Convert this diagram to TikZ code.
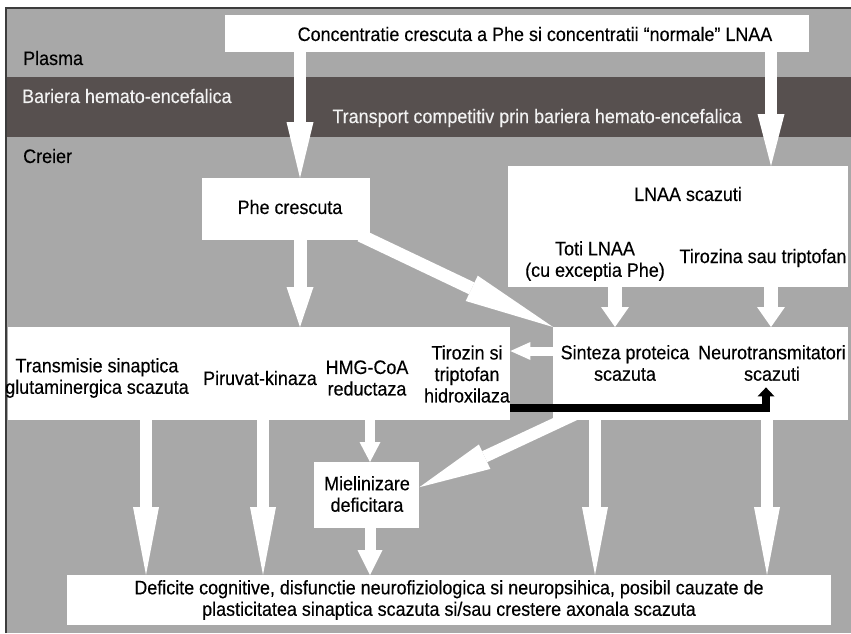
\documentclass[tikz,border=0pt]{standalone}
\usepackage{fontspec}
\setmainfont{Liberation Sans}[FakeStretch=0.92,FakeBold=0.3]
\usetikzlibrary{arrows.meta,calc}
\definecolor{bggrey}{RGB}{168,168,168}
\definecolor{bandgrey}{RGB}{87,80,79}
\definecolor{framegrey}{RGB}{60,60,60}
\definecolor{bandtxt}{RGB}{242,242,242}
\begin{document}
\begin{tikzpicture}[x=1pt,y=-1pt,
  txt/.style={font=\fontsize{19.5}{21.5}\selectfont, inner sep=0pt, align=center, text=black},
  lbl/.style={font=\fontsize{19.5}{21.5}\selectfont, inner sep=0pt, anchor=west},
  box/.style={fill=white, draw=none, inner sep=0pt, anchor=north west},
  fat/.style n args={3}{draw=white, line width=#1, -{Triangle[length=#2,width=#3,line width=0pt]}},
  blackarrow/.style={draw=black, line width=8pt, line join=miter, -{Triangle[length=9pt,width=17pt,line width=0pt]}}
]
\useasboundingbox (0,0) rectangle (851,633);
% background and bands
\fill[white] (0,0) rectangle (851,633);
\fill[bggrey] (6,8) rectangle (851,633);
\fill[bandgrey] (6,77) rectangle (851,137);
\draw[framegrey, line width=1.2pt] (6,633) -- (6,8) -- (851,8);

\node[lbl] (plasma) at (23,58) {Plasma};
\node[lbl, text=bandtxt] (bariera) at (22,96) {Bariera hemato-encefalica};
\node[txt, text=bandtxt] (transport) at (537,118) {Transport competitiv prin bariera hemato-encefalica};
\node[lbl] (creier) at (23,156) {Creier};

% boxes
\node[box, minimum width=584pt, minimum height=37pt] (top) at (225,15) {};
\node[box, minimum width=168pt, minimum height=62pt] (phe) at (202,178) {};
\node[box, minimum width=340pt, minimum height=121pt] (lnaa) at (508,166) {};
\node[box, minimum width=502pt, minimum height=93pt] (big) at (8,327) {};
\node[box, minimum width=295pt, minimum height=93pt] (sint) at (553,327) {};
\node[box, minimum width=105pt, minimum height=66pt] (miel) at (314,462) {};
\node[box, minimum width=764pt, minimum height=50pt] (bottom) at (67,575) {};

% columns
\coordinate (cA) at (300,0);
\coordinate (cB) at (771,0);
\coordinate (cC) at (615,0);
\coordinate (cD) at (146,0);
\coordinate (cE) at (263,0);
\coordinate (cF) at (370,0);
\coordinate (cG) at (595,0);
\coordinate (cH) at (767,0);

% arrows
\draw[fat={12pt}{56pt}{27pt}] (top.south -| cA) -- (phe.north -| cA);
\draw[fat={12pt}{52pt}{27pt}] (top.south -| cB) -- (lnaa.north -| cB);
\draw[fat={13pt}{40pt}{27pt}] (phe.south -| cA) -- (big.north -| cA);
\draw[fat={13pt}{90pt}{28pt}] ($(phe.south east)+(-10,-5)$) -- (sint.north west);
\draw[fat={14pt}{20pt}{28pt}] (lnaa.south -| cC) -- (sint.north -| cC);
\draw[fat={14pt}{20pt}{28pt}] (lnaa.south -| cB) -- (sint.north -| cB);
\draw[fat={9pt}{20pt}{18pt}] ($(sint.north west)+(0,24)$) -- ($(big.north east)+(0,24)$);
\draw[fat={12pt}{68pt}{26pt}] (big.south -| cD) -- (bottom.north -| cD);
\draw[fat={12pt}{68pt}{26pt}] (big.south -| cE) -- (bottom.north -| cE);
\draw[fat={10pt}{20pt}{21pt}] (big.south -| cF) -- (miel.north -| cF);
\draw[fat={11pt}{25pt}{25pt}] (miel.south -| cF) -- (bottom.north -| cF);
\draw[fat={12pt}{72pt}{27pt}] ($(sint.south west)+(22,-6)$) -- ($(miel.east)+(0,-8)$);
\draw[fat={12pt}{68pt}{26pt}] (sint.south -| cG) -- (bottom.north -| cG);
\draw[fat={12pt}{68pt}{26pt}] (sint.south -| cH) -- (bottom.north -| cH);
\draw[blackarrow] ($(big.south east)+(0,-12)$) -| ($(sint.south west)+(213,-33)$);

% texts
\node[txt] (topT) at (535,34) {Concentratie crescuta a Phe si concentratii “normale” LNAA};
\node[txt] (pheT) at (290,207) {Phe crescuta};
\node[txt] (lnaaT) at (688,194) {LNAA scazuti};
\node[txt] (totiT) at (595,261) {Toti LNAA\\(cu exceptia Phe)};
\node[txt] (tirT) at (763,258) {Tirozina sau triptofan};
\node[txt] (transT) at (97,378) {Transmisie sinaptica\\glutaminergica scazuta};
\node[txt] (piruT) at (260,378) {Piruvat-kinaza};
\node[txt] (hmgT) at (367,378) {HMG-CoA\\reductaza};
\node[txt] (hidT) at (467,374) {Tirozin si\\triptofan\\hidroxilaza};
\node[txt] (sintT) at (625,363) {Sinteza proteica\\scazuta};
\node[txt] (neuroT) at (772,363) {Neurotransmitatori\\scazuti};
\node[txt] (mielT) at (367,494) {Mielinizare\\deficitara};
\node[txt] (botT) at (449,600) {Deficite cognitive, disfunctie neurofiziologica si neuropsihica, posibil cauzate de\\plasticitatea sinaptica scazuta si/sau crestere axonala scazuta};
\end{tikzpicture}
\end{document}
